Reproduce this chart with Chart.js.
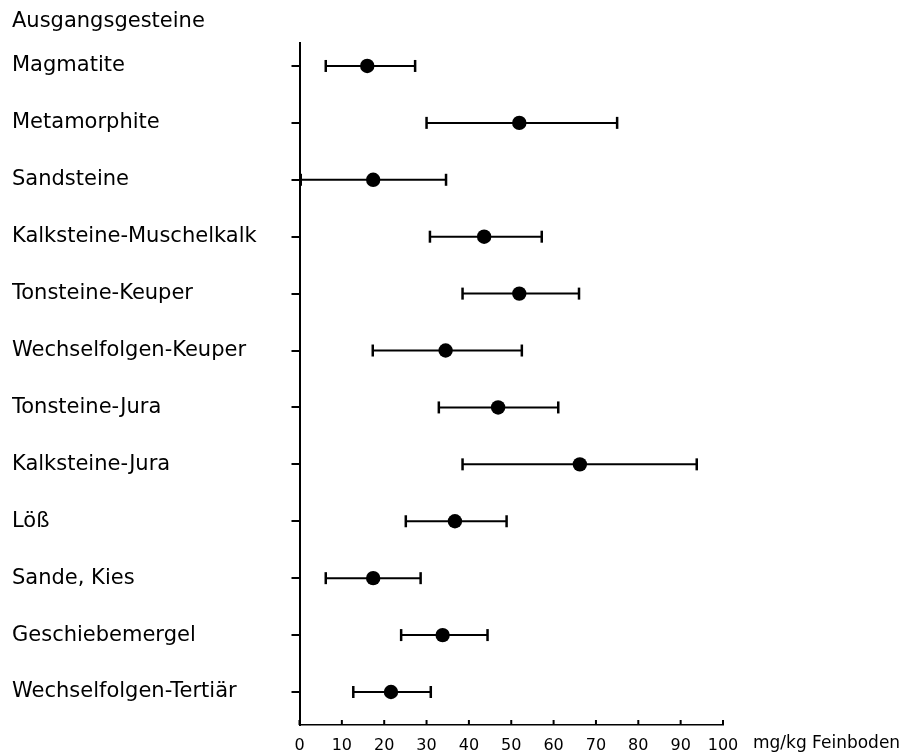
<!DOCTYPE html>
<html>
<head>
<meta charset="utf-8">
<script src="https://cdn.jsdelivr.net/npm/chart.js@4/dist/chart.umd.min.js"></script>
<style>
  body { margin: 0; background: #fff; }
</style>
</head>
<body>
<canvas id="myChart" width="905" height="754"></canvas>
<script>
//data
const categories = [
    "Magmatite",
    "Metamorphite",
    "Sandsteine",
    "Kalksteine-Muschelkalk",
    "Tonsteine-Keuper",
    "Wechselfolgen-Keuper",
    "Tonsteine-Jura",
    "Kalksteine-Jura",
    "Löß",
    "Sande, Kies",
    "Geschiebemergel",
    "Wechselfolgen-Tertiär"
];
const means = [16.0, 51.9, 17.4, 43.6, 51.9, 34.5, 46.9, 66.2, 36.7, 17.4, 33.8, 21.6];
const lows = [6.2, 30.0, 0.3, 30.8, 38.5, 17.3, 32.9, 38.5, 25.1, 6.2, 24.0, 12.7];
const highs = [27.3, 75.0, 34.6, 57.2, 66.0, 52.5, 61.1, 93.8, 48.9, 28.6, 44.4, 31.0];
const xTicks = [0, 10, 20, 30, 40, 50, 60, 70, 80, 90, 100];
const titleText = "Ausgangsgesteine";
const unitLabel = "mg/kg Feinboden";

const font = '"DejaVu Sans", sans-serif';
Chart.defaults.color = "#000";
Chart.defaults.font.family = font;

//inward ticks on the x axis and the unit text
const axisExtras = {
    id: "axisExtras",
    afterDraw(chart) {
        const ctx = chart.ctx;
        const x = chart.scales.x;
        ctx.save();
        ctx.strokeStyle = "#000";
        ctx.lineWidth = 2;
        x.ticks.forEach((t) => {
            const px = x.getPixelForValue(t.value);
            ctx.beginPath();
            ctx.moveTo(px, x.top);
            ctx.lineTo(px, x.top - 5);
            ctx.stroke();
        });
        ctx.font = "17px " + font;
        ctx.fillStyle = "#000";
        ctx.textBaseline = "middle";
        ctx.fillText(unitLabel, x.right + 30, x.top + 19);
        ctx.restore();
    }
};

// whisker lines, one per row
const whiskers = categories.map((c, i) => ({
    type: "line",
    data: [{x: lows[i], y: i + 1}, {x: highs[i], y: i + 1}],
    borderColor: "#000",
    borderWidth: 2,
    pointRadius: 0,
    clip: false
}));

const caps = {
    type: "line",
    showLine: false,
    data: categories.flatMap((c, i) => [{x: lows[i], y: i + 1}, {x: highs[i], y: i + 1}]),
    pointStyle: "line",
    rotation: 90,
    pointRadius: 6,
    pointBorderWidth: 2.5,
    pointBorderColor: "#000",
    clip: false
};

const dots = {
    type: "line",
    showLine: false,
    data: categories.map((c, i) => ({x: means[i], y: i + 1})),
    pointStyle: "circle",
    pointRadius: 7.2,
    pointBackgroundColor: "#000",
    pointBorderColor: "#000",
    pointBorderWidth: 0,
    clip: false
};

const config = {
    type: "line",
    data: {datasets: [...whiskers, caps, dots]},
    options: {
        responsive: false,
        animation: false,
        layout: {padding: {left: 12, right: 182, top: 0, bottom: 0}},
        plugins: {
            legend: {display: false},
            tooltip: {enabled: false},
            title: {
                display: true,
                text: titleText,
                align: "start",
                color: "#000",
                font: {size: 21, weight: "normal", family: font},
                padding: {top: 9, bottom: 9}
            }
        },
        scales: {
            x: {
                type: "linear",
                min: 0,
                max: 100,
                afterBuildTicks: (axis) => { axis.ticks = xTicks.map((v) => ({value: v})); },
                afterFit: (axis) => { axis.height = 29; },
                ticks: {font: {size: 16}, padding: 11, color: "#000"},
                grid: {drawOnChartArea: false, drawTicks: false},
                border: {color: "#000", width: 1.5}
            },
            y: {
                type: "linear",
                reverse: true,
                min: 0.6,
                max: 12.58,
                afterBuildTicks: (axis) => { axis.ticks = categories.map((c, i) => ({value: i + 1})); },
                afterFit: (axis) => { axis.width = 287.5; },
                ticks: {
                    font: {size: 21},
                    color: "#000",
                    crossAlign: "far",
                    callback: (v) => categories[v - 1]
                },
                grid: {drawOnChartArea: false, tickLength: 8, color: "#000", lineWidth: 2},
                border: {color: "#000", width: 2}
            }
        }
    },
    plugins: [axisExtras]
};

const chart = document.getElementById("myChart");
const myChart = new Chart(chart, config);
</script>
</body>
</html>
